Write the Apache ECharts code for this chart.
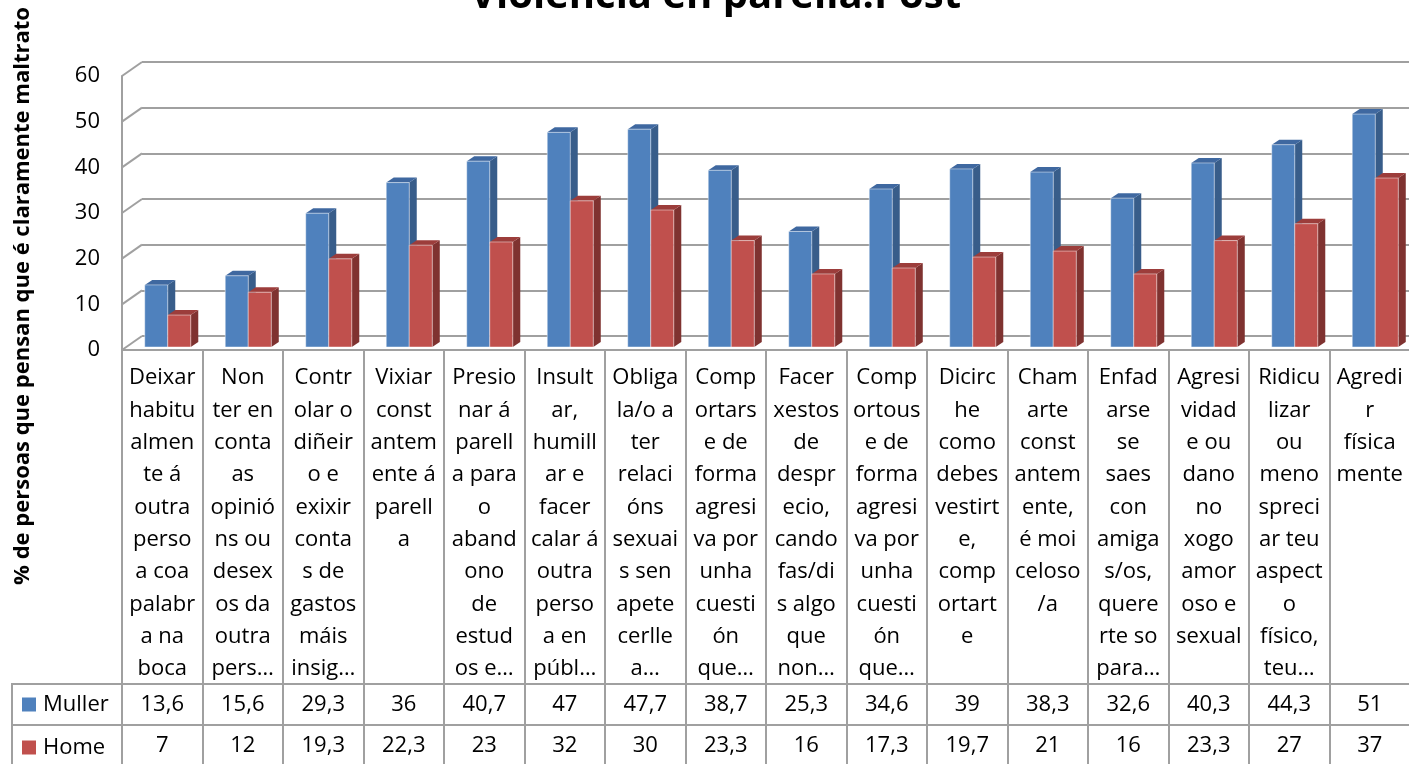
<!DOCTYPE html>
<html>
<head>
<meta charset="utf-8">
<script src="https://cdn.jsdelivr.net/npm/echarts@6/dist/echarts.min.js"></script>
<style>
    html, body { margin: 0; padding: 0; background: #fff; }
    #chart { width: 1409px; height: 764px; }
</style>
</head>
<body>
<div id="chart"></div>
<script type="text/javascript">
    // datos
    var categories = [
        'Deixar\nhabitu\nalmen\nte á\noutra\nperso\na coa\npalabr\na na\nboca',
        'Non\nter en\nconta\nas\nopinió\nns ou\ndesex\nos da\noutra\npers…',
        'Contr\nolar o\ndiñeir\no e\nexixir\nconta\ns de\ngastos\nmáis\ninsig…',
        'Vixiar\nconst\nantem\nente á\nparell\na',
        'Presio\nnar á\nparell\na para\no\naband\nono\nde\nestud\nos e…',
        'Insult\nar,\nhumill\nar e\nfacer\ncalar á\noutra\nperso\na en\npúbl…',
        'Obliga\nla/o a\nter\nrelaci\nóns\nsexuai\ns sen\napete\ncerlle\na…',
        'Comp\nortars\ne de\nforma\nagresi\nva por\nunha\ncuesti\nón\nque…',
        'Facer\nxestos\nde\ndespr\necio,\ncando\nfas/di\ns algo\nque\nnon…',
        'Comp\nortous\ne de\nforma\nagresi\nva por\nunha\ncuesti\nón\nque…',
        'Dicirc\nhe\ncomo\ndebes\nvestirt\ne,\ncomp\nortart\ne',
        'Cham\narte\nconst\nantem\nente,\né moi\nceloso\n/a',
        'Enfad\narse\nse\nsaes\ncon\namiga\ns/os,\nquere\nrte so\npara…',
        'Agresi\nvidad\ne ou\ndano\nno\nxogo\namor\noso e\nsexual',
        'Ridicu\nlizar\nou\nmeno\nspreci\nar teu\naspect\no\nfísico,\nteu…',
        'Agredi\nr\nfísica\nmente'
    ];
    var muller = [13.6, 15.6, 29.3, 36, 40.7, 47, 47.7, 38.7, 25.3, 34.6, 39, 38.3, 32.6, 40.3, 44.3, 51];
    var home = [7, 12, 19.3, 22.3, 23, 32, 30, 23.3, 16, 17.3, 19.7, 21, 16, 23.3, 27, 37];
    var yTicks = [0, 10, 20, 30, 40, 50, 60];
    var seriesNames = ['Muller', 'Home'];
    var chartTitle = 'Violencia en parella:Post';
    var yTitle = '% de persoas que pensan que é claramente maltrato';

    var lineColor = '#a0a0a0';
    var font = '"Open Sans", Lato, sans-serif';
    var blue = { front: '#4f81bd', side: '#385d8a', top: '#3f68a0' };
    var red = { front: '#c0504d', side: '#7f3230', top: '#9c3d3b' };

    function fmt(v) {
        return String(v).replace('.', ',');
    }

    // barras con efecto 3D
    function barRender(k, c) {
        return function (params, api) {
            var i = api.value(0), v = api.value(1);
            var base = api.coord([i, 0]);
            var top = api.coord([i, v]);
            var band = api.size([1, 0])[0];
            var w = band * 0.286;
            var x0 = base[0] + 5.5 - w + k * w;
            var x1 = x0 + w;
            var yb = base[1] - 3, yt = top[1] - 3;
            var dx = 7.5, dy = -5;
            return {
                type: 'group',
                children: [
                    { type: 'polygon', shape: { points: [[x1, yb], [x1 + dx, yb + dy], [x1 + dx, yt + dy], [x1, yt]] }, style: { fill: c.side } },
                    { type: 'polygon', shape: { points: [[x0, yt], [x0 + dx, yt + dy], [x1 + dx, yt + dy], [x1, yt]] }, style: { fill: c.top } },
                    { type: 'rect', shape: { x: x0, y: yt, width: w, height: yb - yt }, style: { fill: c.front, stroke: 'rgba(255,255,255,0.45)', lineWidth: 1 } }
                ]
            };
        };
    }

    // pared lateral
    function wallRender(params, api) {
        var p = api.coord([0, api.value(1)]);
        var x = params.coordSys.x;
        return {
            type: 'line',
            shape: { x1: x, y1: p[1], x2: x + 20, y2: p[1] - 14 },
            style: { stroke: lineColor, lineWidth: 2 }
        };
    }

    function rowLabel(name, color) {
        return {
            margin: 100,
            align: 'left',
            formatter: function () { return '{sq|}{t|' + name + '}'; },
            rich: {
                sq: { width: 14, height: 14, backgroundColor: color },
                t: { fontSize: 22, fontFamily: font, color: '#000', padding: [0, 0, 0, 7] }
            }
        };
    }

    function valueAxis(gridIndex, values) {
        return {
            gridIndex: gridIndex, type: 'category', data: categories, position: 'top',
            axisLine: { show: false }, axisTick: { show: false },
            axisLabel: {
                inside: true, interval: 0, margin: 20.5, verticalAlign: 'middle',
                fontSize: 22, fontFamily: font, color: '#000',
                formatter: function (val, idx) { return fmt(values[idx]); }
            }
        };
    }

    var option = {
        backgroundColor: '#fff',
        animation: false,
        title: {
            text: chartTitle, left: 465, top: -28,
            textStyle: { fontSize: 40, fontWeight: 'bold', fontFamily: font, color: '#000' }
        },
        graphic: [{
            type: 'text', x: 23, y: 296, rotation: Math.PI / 2,
            style: { text: yTitle, fontSize: 22, fontWeight: 'bold', fontFamily: font, fill: '#000', align: 'center', verticalAlign: 'middle' }
        }],
        grid: [
            { left: 122, top: 76, right: -1, height: 274, outerBoundsMode: 'none' },
            { left: 142, top: 62, right: -1, height: 274, outerBoundsMode: 'none' },
            { left: 122, top: 684, right: -1, height: 41, show: true, borderColor: lineColor, borderWidth: 2, outerBoundsMode: 'none' },
            { left: 122, top: 725, right: -1, height: 45, show: true, borderColor: lineColor, borderWidth: 2, outerBoundsMode: 'none' },
            { left: 12, top: 684, width: 110, height: 41, show: true, borderColor: lineColor, borderWidth: 2, outerBoundsMode: 'none' },
            { left: 12, top: 725, width: 110, height: 45, show: true, borderColor: lineColor, borderWidth: 2, outerBoundsMode: 'none' }
        ],
        xAxis: [
            {
                gridIndex: 0, type: 'category', data: categories,
                axisLine: { lineStyle: { color: lineColor, width: 2 } },
                axisTick: { show: true, length: 414, interval: 0, lineStyle: { color: lineColor, width: 2 } },
                axisLabel: { interval: 0, margin: 12, fontSize: 22, lineHeight: 32.3, fontFamily: font, color: '#000', verticalAlign: 'top' }
            },
            { gridIndex: 1, type: 'category', data: categories, show: false },
            valueAxis(2, muller),
            valueAxis(3, home)
        ],
        yAxis: [
            {
                gridIndex: 0, type: 'value', min: 0, max: 60, interval: 10,
                axisLine: { show: true, lineStyle: { color: lineColor, width: 2 } },
                axisTick: { show: false }, splitLine: { show: false },
                axisLabel: { margin: 22, fontSize: 22, fontFamily: font, color: '#000' }
            },
            {
                gridIndex: 1, type: 'value', min: 0, max: 60, interval: 10,
                axisLine: { show: false }, axisTick: { show: false }, axisLabel: { show: false },
                splitLine: { lineStyle: { color: lineColor, width: 2 } }
            },
            { gridIndex: 2, type: 'category', data: [seriesNames[0]], axisLine: { show: false }, axisTick: { show: false }, axisLabel: rowLabel(seriesNames[0], blue.front) },
            { gridIndex: 3, type: 'category', data: [seriesNames[1]], axisLine: { show: false }, axisTick: { show: false }, axisLabel: rowLabel(seriesNames[1], red.front) }
        ],
        series: [
            {
                type: 'custom', name: 'wall', xAxisIndex: 0, yAxisIndex: 0, silent: true, z: 1,
                renderItem: wallRender, encode: { x: 0, y: 1 },
                data: yTicks.map(function (v) { return [0, v]; })
            },
            {
                type: 'custom', name: seriesNames[0], xAxisIndex: 0, yAxisIndex: 0, z: 3,
                renderItem: barRender(0, blue), encode: { x: 0, y: 1 },
                data: muller.map(function (v, i) { return [i, v]; })
            },
            {
                type: 'custom', name: seriesNames[1], xAxisIndex: 0, yAxisIndex: 0, z: 4,
                renderItem: barRender(1, red), encode: { x: 0, y: 1 },
                data: home.map(function (v, i) { return [i, v]; })
            }
        ]
    };

    var myChart = echarts.init(document.getElementById('chart'));
    myChart.setOption(option);
</script>
</body>
</html>
